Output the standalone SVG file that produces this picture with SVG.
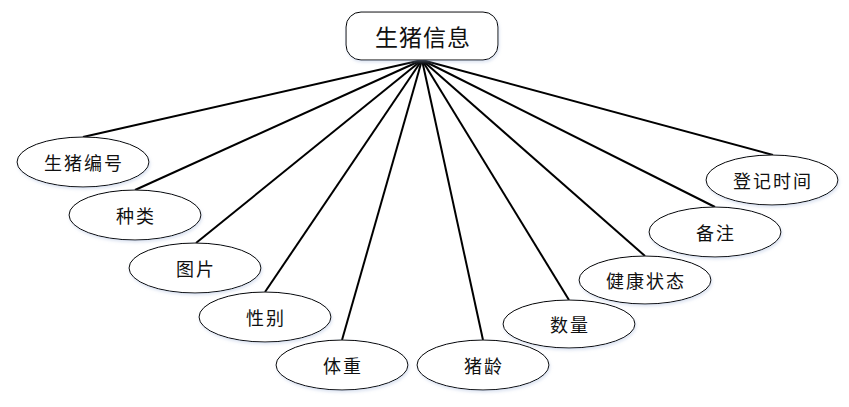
<svg xmlns="http://www.w3.org/2000/svg" width="849" height="407" viewBox="0 0 849 407">
<defs>
<filter id="sh" x="-10%" y="-10%" width="120%" height="130%">
<feDropShadow dx="1" dy="2" stdDeviation="1.5" flood-color="#9fb4d8" flood-opacity="0.35"/>
</filter>
<style>
.e{fill:#fff;stroke:#000;stroke-width:1;filter:url(#sh)}
.t{font-family:"Noto Sans CJK SC","Noto Sans",sans-serif;font-size:18px;fill:#111;text-anchor:middle;dominant-baseline:central;letter-spacing:2px}
.c{stroke:#000;stroke-width:2;fill:none}
</style>
</defs>
<rect width="849" height="407" fill="#fff"/>
<g id="connectors">
<line class="c" x1="422" y1="60" x2="83" y2="137"/>
<line class="c" x1="422" y1="60" x2="135" y2="190"/>
<line class="c" x1="422" y1="60" x2="196" y2="243"/>
<line class="c" x1="422" y1="60" x2="265" y2="292"/>
<line class="c" x1="422" y1="60" x2="342" y2="340"/>
<line class="c" x1="422" y1="60" x2="483" y2="340"/>
<line class="c" x1="422" y1="60" x2="569" y2="300"/>
<line class="c" x1="422" y1="60" x2="645" y2="256"/>
<line class="c" x1="422" y1="60" x2="715" y2="207"/>
<line class="c" x1="422" y1="60" x2="773" y2="155"/>
</g>
<g id="root">
<rect class="e" x="346" y="12" width="152" height="48" rx="15" ry="15"/>
<text class="t" x="423" y="36" style="font-size:23px;letter-spacing:1px">生猪信息</text>
</g>
<g id="n1"><ellipse class="e" cx="83" cy="162" rx="66" ry="25"/><text class="t" x="84" y="162">生猪编号</text></g>
<g id="n2"><ellipse class="e" cx="135" cy="215" rx="66" ry="25"/><text class="t" x="136" y="215">种类</text></g>
<g id="n3"><ellipse class="e" cx="195" cy="268" rx="66" ry="25"/><text class="t" x="196" y="268">图片</text></g>
<g id="n4"><ellipse class="e" cx="265" cy="317" rx="66" ry="25"/><text class="t" x="266" y="317">性别</text></g>
<g id="n5"><ellipse class="e" cx="342" cy="365" rx="66" ry="25"/><text class="t" x="343" y="365">体重</text></g>
<g id="n6"><ellipse class="e" cx="483" cy="365" rx="66" ry="25"/><text class="t" x="484" y="365">猪龄</text></g>
<g id="n7"><ellipse class="e" cx="569" cy="324" rx="66" ry="24"/><text class="t" x="570" y="324">数量</text></g>
<g id="n8"><ellipse class="e" cx="645" cy="280" rx="66" ry="24"/><text class="t" x="646" y="280">健康状态</text></g>
<g id="n9"><ellipse class="e" cx="715" cy="232" rx="66" ry="25"/><text class="t" x="716" y="232">备注</text></g>
<g id="n10"><ellipse class="e" cx="772" cy="180" rx="66" ry="25"/><text class="t" x="773" y="180">登记时间</text></g>
</svg>
